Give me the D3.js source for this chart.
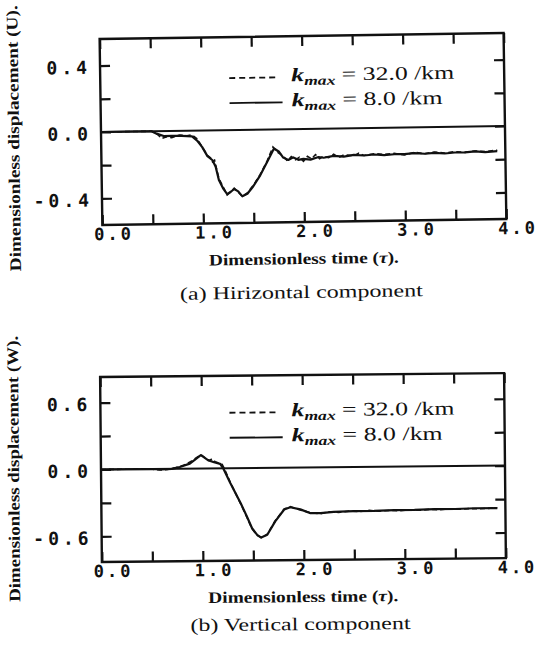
<!DOCTYPE html>
<html lang="en">
  <head>
    <meta charset="utf-8" />
    <title>Dimensionless displacement</title>
    <script src="https://cdn.jsdelivr.net/npm/d3@7"></script>
    <style>
      body { margin: 0; background: #fff; }
    </style>
  </head>
  <body>
    <script>
      //Ticks and labels
      var tTicks = [0, 0.5, 1, 1.5, 2, 2.5, 3, 3.5, 4];
      var tLabels = [0, 1, 2, 3, 4];
      var uTicks = [-0.4, -0.2, 0, 0.2, 0.4];
      var uLabels = [-0.4, 0, 0.4];
      var wTicks = [-0.6, -0.3, 0, 0.3, 0.6];
      var wLabels = [-0.6, 0, 0.6];
      var kmax = ["32.0", "8.0"];

      //Horizontal component U, k_max = 8.0 /km
      var tU8 = [0, 0.5, 0.55, 0.62, 0.7, 0.8, 0.9, 0.95, 1.0, 1.05,
        1.1, 1.13, 1.16, 1.2, 1.24, 1.28, 1.31, 1.35, 1.39, 1.44,
        1.5, 1.57, 1.64, 1.71, 1.76, 1.8, 1.85, 1.9, 1.95, 2.0,
        2.07, 2.15, 2.2, 2.3, 2.4, 2.5, 2.6, 2.7, 2.8, 2.9,
        3.0, 3.1, 3.2, 3.3, 3.4, 3.5, 3.6, 3.7, 3.8, 3.92];
      var u8 = [0, 0, -0.015, -0.03, -0.03, -0.03, -0.035, -0.06, -0.1, -0.155,
        -0.18, -0.22, -0.3, -0.35, -0.385, -0.37, -0.355, -0.37, -0.4, -0.385,
        -0.34, -0.275, -0.195, -0.115, -0.135, -0.17, -0.185, -0.17, -0.185, -0.18,
        -0.185, -0.17, -0.175, -0.165, -0.17, -0.16, -0.165, -0.16, -0.165, -0.16,
        -0.16, -0.155, -0.16, -0.155, -0.16, -0.155, -0.155, -0.15, -0.155, -0.15];

      //Horizontal component U, k_max = 32.0 /km
      var tU32 = [0, 0.5, 0.56, 0.6, 0.65, 0.7, 0.78, 0.85, 0.9, 0.95,
        1.0, 1.05, 1.08, 1.1, 1.12, 1.16, 1.2, 1.24, 1.28, 1.31,
        1.35, 1.39, 1.44, 1.5, 1.57, 1.64, 1.7, 1.75, 1.8, 1.84,
        1.88, 1.92, 1.96, 2.0, 2.04, 2.08, 2.12, 2.16, 2.2, 2.25,
        2.3, 2.35, 2.4, 2.5, 2.55, 2.6, 2.7, 2.8, 2.9, 3.0,
        3.1, 3.2, 3.3, 3.4, 3.5, 3.6, 3.7, 3.8, 3.92];
      var u32 = [0, 0, -0.02, -0.045, -0.035, -0.04, -0.025, -0.03, -0.025, -0.05,
        -0.1, -0.15, -0.165, -0.19, -0.18, -0.29, -0.34, -0.39, -0.37, -0.35,
        -0.375, -0.4, -0.38, -0.335, -0.27, -0.19, -0.105, -0.14, -0.16, -0.19,
        -0.165, -0.185, -0.17, -0.195, -0.165, -0.18, -0.155, -0.18, -0.165, -0.175,
        -0.155, -0.175, -0.16, -0.165, -0.15, -0.165, -0.155, -0.16, -0.155, -0.165,
        -0.15, -0.16, -0.15, -0.158, -0.15, -0.155, -0.148, -0.152, -0.145];

      //Vertical component W, k_max = 8.0 /km
      var tW8 = [0, 0.5, 0.6, 0.7, 0.78, 0.88, 0.99, 1.06, 1.12, 1.18,
        1.21, 1.28, 1.38, 1.44, 1.49, 1.54, 1.58, 1.64, 1.72, 1.81,
        1.87, 1.97, 2.07, 2.17, 2.3, 2.5, 2.7, 2.9, 3.1, 3.3,
        3.5, 3.7, 3.92];
      var w8 = [0, 0, -0.005, 0, 0.015, 0.045, 0.12, 0.075, 0.055, 0.04,
        0, -0.135, -0.315, -0.435, -0.54, -0.6, -0.625, -0.6, -0.48, -0.375,
        -0.355, -0.375, -0.41, -0.41, -0.4, -0.395, -0.395, -0.39, -0.39, -0.385,
        -0.385, -0.38, -0.38];

      //Vertical component W, k_max = 32.0 /km
      var tW32 = [0, 0.5, 0.58, 0.66, 0.74, 0.82, 0.9, 0.99, 1.04, 1.07,
        1.1, 1.13, 1.16, 1.2, 1.22, 1.28, 1.38, 1.44, 1.49, 1.54,
        1.58, 1.64, 1.72, 1.81, 1.87, 1.97, 2.07, 2.17, 2.25, 2.35,
        2.45, 2.55, 2.65, 2.75, 2.85, 2.95, 3.05, 3.15, 3.25, 3.35,
        3.45, 3.55, 3.65, 3.75, 3.92];
      var w32 = [0, 0, -0.01, -0.005, 0.01, 0.03, 0.07, 0.125, 0.09, 0.07,
        0.085, 0.06, 0.05, 0.035, 0, -0.13, -0.32, -0.44, -0.545, -0.605,
        -0.625, -0.595, -0.475, -0.37, -0.35, -0.38, -0.405, -0.415, -0.4, -0.405,
        -0.395, -0.4, -0.39, -0.398, -0.392, -0.395, -0.388, -0.393, -0.386, -0.39,
        -0.384, -0.388, -0.382, -0.385, -0.378];

      var w = 538;
      var h = 655;
      var ink = "#111";
      var mono = "'DejaVu Sans Mono', monospace";
      var serif = "'Liberation Serif', 'DejaVu Serif', serif";

      var svg = d3.select("body").append("svg").attr("width", w).attr("height", h);

      var fmt = function (d) { return d.toFixed(1); };

      function drawPanel(p) {
        var x = d3.scaleLinear().domain([0, 4]).range([101, 505]);
        var y = d3.scaleLinear().domain(p.domain).range([p.bottom, p.top]);

        //scan is a little tilted
        var g = svg.append("g")
          .attr("transform", "rotate(" + p.rot + "," + x(0) + "," + y(0) + ")");

        //x ticks, labels below
        var bx = g.append("g")
          .attr("transform", "translate(0," + p.bottom + ")")
          .call(d3.axisBottom(x).tickValues(tTicks).tickSize(-10).tickPadding(3)
            .tickFormat(function (d) { return tLabels.indexOf(d) >= 0 ? fmt(d) : ""; }));
        g.append("g")
          .attr("transform", "translate(0," + p.top + ")")
          .call(d3.axisTop(x).tickValues(tTicks).tickSize(-10).tickFormat(""));

        //y ticks, labels left
        var ly = g.append("g")
          .attr("transform", "translate(" + x(0) + ",0)")
          .call(d3.axisLeft(y).tickValues(p.ticks).tickSize(-10).tickPadding(9)
            .tickFormat(function (d) { return p.labels.indexOf(d) >= 0 ? fmt(d) : ""; }));
        g.append("g")
          .attr("transform", "translate(" + x(4) + ",0)")
          .call(d3.axisRight(y).tickValues(p.ticks).tickSize(-10).tickFormat(""));

        g.selectAll(".domain").remove();
        g.selectAll(".tick line").attr("stroke", ink).attr("stroke-width", 2.2);
        g.selectAll(".tick text")
          .attr("fill", ink)
          .attr("font-family", mono)
          .attr("font-weight", "bold");
        bx.selectAll(".tick text")
          .attr("font-size", "17px")
          .attr("letter-spacing", "3px")
          .attr("dx", 11);
        ly.selectAll(".tick text")
          .attr("font-size", "18px")
          .attr("letter-spacing", "4px")
          .attr("dy", "0.42em");

        //frame
        g.append("rect")
          .attr("x", x(0))
          .attr("y", p.top)
          .attr("width", x(4) - x(0))
          .attr("height", p.bottom - p.top)
          .attr("fill", "none")
          .attr("stroke", ink)
          .attr("stroke-width", 2.4);

        //zero line
        g.append("line")
          .attr("x1", x(0)).attr("x2", x(4))
          .attr("y1", y(0)).attr("y2", y(0))
          .attr("stroke", ink)
          .attr("stroke-width", 2);

        var line = d3.line()
          .x(function (d) { return x(d[0]); })
          .y(function (d) { return y(d[1]); });

        g.append("path")
          .datum(d3.zip(p.t8, p.v8))
          .attr("d", line)
          .attr("fill", "none")
          .attr("stroke", ink)
          .attr("stroke-width", 2.2)
          .attr("stroke-linejoin", "round");

        g.append("path")
          .datum(d3.zip(p.t32, p.v32))
          .attr("d", line)
          .attr("fill", "none")
          .attr("stroke", ink)
          .attr("stroke-width", 1.6)
          .attr("stroke-dasharray", "5,3");

        //legend
        var rows = [
          { y: p.legendY, dash: "6,4", k: kmax[0], len: 163 },
          { y: p.legendY + 25, dash: null, k: kmax[1], len: 151 },
        ];
        rows.forEach(function (r) {
          g.append("line")
            .attr("x1", 230).attr("x2", r.dash ? 280 : 283)
            .attr("y1", r.y - 4).attr("y2", r.y - 4)
            .attr("stroke", ink)
            .attr("stroke-width", 1.8)
            .attr("stroke-dasharray", r.dash);
          var t = g.append("text")
            .attr("x", 292)
            .attr("y", r.y)
            .attr("font-family", serif)
            .attr("font-size", "19px")
            .attr("fill", ink)
            .attr("textLength", r.len)
            .attr("lengthAdjust", "spacingAndGlyphs");
          t.append("tspan").attr("font-style", "italic").attr("font-weight", "bold").text("k");
          t.append("tspan")
            .attr("font-style", "italic")
            .attr("font-weight", "bold")
            .attr("font-size", "13px")
            .attr("dy", 4)
            .text("max");
          t.append("tspan").attr("dy", -4).text(" = " + r.k + " /km");
        });

        //axis titles
        g.append("text")
          .attr("transform", "translate(19," + p.yTitleC + ") rotate(-90)")
          .attr("text-anchor", "middle")
          .attr("font-family", serif)
          .attr("font-weight", "bold")
          .attr("font-size", "16px")
          .attr("fill", ink)
          .attr("textLength", 266)
          .attr("lengthAdjust", "spacingAndGlyphs")
          .text("Dimensionless displacement (" + p.comp + ").");

        var xt = g.append("text")
          .attr("x", 302)
          .attr("y", p.bottom + 42)
          .attr("text-anchor", "middle")
          .attr("font-family", serif)
          .attr("font-weight", "bold")
          .attr("font-size", "16px")
          .attr("fill", ink)
          .attr("textLength", 190)
          .attr("lengthAdjust", "spacingAndGlyphs");
        xt.append("tspan").text("Dimensionless time (");
        xt.append("tspan").attr("font-style", "italic").text("τ");
        xt.append("tspan").text(").");

        g.append("text")
          .attr("x", 299)
          .attr("y", p.bottom + p.capOff)
          .attr("text-anchor", "middle")
          .attr("font-family", serif)
          .attr("font-size", "18px")
          .attr("fill", ink)
          .attr("textLength", p.capLen)
          .attr("lengthAdjust", "spacingAndGlyphs")
          .text(p.caption);
      }

      drawPanel({
        domain: [-0.56, 0.56], top: 39, bottom: 225, rot: -0.85,
        ticks: uTicks, labels: uLabels,
        t8: tU8, v8: u8, t32: tU32, v32: u32,
        legendY: 84, comp: "U", yTitleC: 137,
        caption: "(a) Hirizontal component", capOff: 76, capLen: 243,
      });

      drawPanel({
        domain: [-0.83, 0.83], top: 377, bottom: 562, rot: -0.55,
        ticks: wTicks, labels: wLabels,
        t8: tW8, v8: w8, t32: tW32, v32: w32,
        legendY: 418, comp: "W", yTitleC: 468,
        caption: "(b) Vertical component", capOff: 70, capLen: 220,
      });
    </script>
  </body>
</html>
